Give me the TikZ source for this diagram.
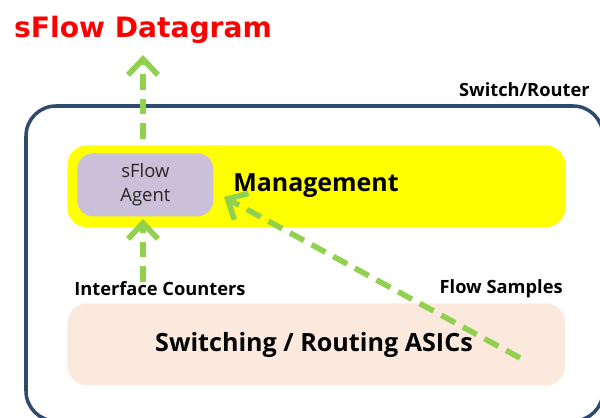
\documentclass[tikz,border=0pt]{standalone}
\usepackage{fontspec}
\setmainfont{Open Sans}
\newfontfamily\titlefont{DejaVu Sans}
\usetikzlibrary{arrows.meta}
\definecolor{boxblue}{HTML}{2E4A6E}
\definecolor{mgmtyellow}{HTML}{FFFF00}
\definecolor{agentlilac}{HTML}{CBC0D9}
\definecolor{asicpeach}{HTML}{FCE9DD}
\definecolor{flowgreen}{HTML}{92D050}

\begin{document}
\begin{tikzpicture}[x=0.02cm,y=-0.02cm,
        panel/.style={rounded corners=20*0.02cm,anchor=north west,inner sep=0pt},
        lbl/.style={font=\bfseries\fontsize{10.4}{12}\selectfont,inner sep=0pt},
        flow/.style={draw=flowgreen,line width=3.2pt,dash pattern=on 9pt off 5pt,
            -{Straight Barb[length=9pt,width=17pt,line width=3.2pt]}}]
        \useasboundingbox (0,0) rectangle (600,418);
        \clip (0,0) rectangle (600,418);
        % switch / router frame
        \draw[boxblue,line width=2pt,rounded corners=30*0.02cm] (26,106) rectangle (603,421);
        \node[lbl,anchor=east] (router) at (590,90) {Switch/Router};
        % management plane
        \node[panel,fill=mgmtyellow,minimum width=498*0.02cm,minimum height=82*0.02cm] (mgmt) at (67,145) {};
        \node[panel,fill=agentlilac,rounded corners=16*0.02cm,minimum width=136*0.02cm,minimum height=63*0.02cm] (agent) at (77,153) {};
        \node[align=center,font=\fontsize{10.5}{14}\selectfont,text=black!85] (agentlbl) at (agent.center) {sFlow\\Agent};
        \node[font=\bfseries\fontsize{14.2}{16}\selectfont] (mgmtlbl) at (316,186) {Management};
        % asics
        \node[panel,fill=asicpeach,minimum width=498*0.02cm,minimum height=82*0.02cm] (asic) at (67,303) {};
        \node[font=\bfseries\fontsize{14.3}{16}\selectfont] (asiclbl) at (314,345) {Switching / Routing ASICs};
        \node[lbl,anchor=west] (counters) at (74,289) {Interface Counters};
        \node[lbl,anchor=east] (samples) at (563,289) {Flow Samples};
        % datagram
        \node[font=\titlefont\bfseries\fontsize{16}{18}\selectfont,text=red,anchor=west] (datagram) at (8,30) {sFlow Datagram};
        % flows
        \coordinate (agenttop) at (143,139);
        \coordinate (datagramtip) at (143,55);
        \coordinate (counterstop) at (143,282);
        \coordinate (agentbot) at (143,219);
        \coordinate (sampleend) at (520,358);
        \coordinate (agentside) at (224,197);
        \draw[flow] (agenttop) -- (datagramtip);
        \draw[flow] (counterstop) -- (agentbot);
        \draw[flow] (sampleend) -- (agentside);
    \end{tikzpicture}
\end{document}
